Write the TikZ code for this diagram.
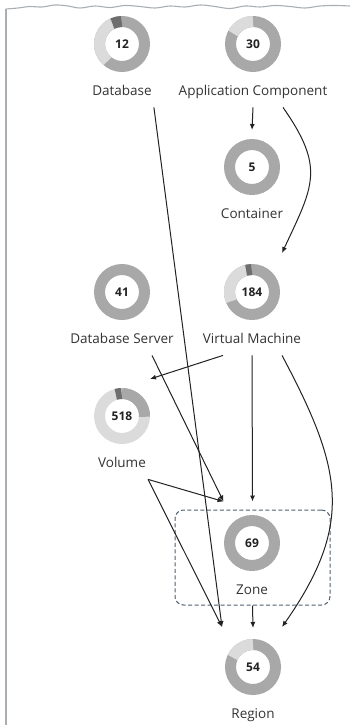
\documentclass[tikz,border=0pt]{standalone}
\usepackage{fontspec}
\setmainfont{Open Sans}
\usetikzlibrary{arrows.meta,positioning,calc}
\usepackage{xcolor}
\definecolor{ringmid}{HTML}{A8A8A8}
\definecolor{ringlight}{HTML}{DBDBDB}
\definecolor{ringdark}{HTML}{6E6E6E}
\definecolor{dark}{HTML}{222222}
\definecolor{textgray}{HTML}{333333}
\definecolor{zoneline}{HTML}{4F5F6F}
\definecolor{edgegray}{HTML}{A9AEB3}
\tikzset{
  ring/.style={circle, draw=#1, line width=11pt, minimum size=45pt, inner sep=0pt, outer sep=5.5pt, text=dark, font=\fontsize{12}{14}\selectfont\bfseries},
  ring/.default=ringmid,
  lbl/.style={text=textgray, font=\fontsize{13.5}{16}\selectfont, text height=10pt, text depth=3pt, inner xsep=2pt, inner ysep=8.5pt},
  arrow/.style={-{Latex[length=6pt,width=5pt]}, line width=1pt, draw=dark},
  grp/.style={draw=zoneline, dash pattern=on 4pt off 2.5pt, rounded corners=3mm, line width=1pt, minimum width=155pt, minimum height=95pt},
  edge/.style={draw=edgegray, line width=1.1pt}
}
% one coloured piece of a ring, angles counter clockwise
\newcommand{\ringpart}[4]{\draw[draw=#4, line width=11pt] (#1.center) ++(#2:22.5pt) arc[start angle=#2, end angle=#3, radius=22.5pt];}

\begin{document}
\begin{tikzpicture}[x=1pt, y=-1pt]
  \useasboundingbox (0,0) rectangle (350,725);

  % torn top edge and left border
  \draw[edge] plot[smooth, tension=0.6] coordinates {(6,9) (18,8) (30,6.5) (42,7) (55,5) (68,6) (80,8) (95,6) (110,7.5) (125,5.5) (140,6.5) (155,8) (170,6) (185,7) (200,5) (215,6.5) (230,8.5) (245,6) (260,7) (275,5.5) (290,6.5) (305,8) (320,6) (335,5.5) (350,6)};
  \draw[edge] (6,9) -- (6,725);

  % zone group
  \node[grp] (zonebox) at (252.5,557.5) {};

  % rings
  \node[ring] (db) at (122,44) {12};
  \node[ring] (ac) at (253,44) {30};
  \node[ring] (ct) at (252,167) {5};
  \node[ring] (ds) at (122,292) {41};
  \node[ring] (vm) at (252,292) {184};
  \node[ring=ringlight] (vo) at (122,416) {518};
  \node[ring] (zn) at (252,543) {69};
  \node[ring] (rg) at (253,667) {54};

  % coloured pieces
  \ringpart{db}{115}{230}{ringlight}
  \ringpart{db}{91}{115}{ringdark}
  \ringpart{ac}{90}{152}{ringlight}
  \ringpart{vm}{105}{204}{ringlight}
  \ringpart{vm}{91}{105}{ringdark}
  \ringpart{vo}{-2}{90}{ringmid}
  \ringpart{vo}{91}{106}{ringdark}
  \ringpart{rg}{90}{155}{ringlight}

  % labels
  \node[lbl, below=5pt of db] (dblbl) {Database};
  \node[lbl, below=5pt of ac] (aclbl) {Application Component};
  \node[lbl, below=5pt of ct] (ctlbl) {Container};
  \node[lbl, below=5pt of ds] (dslbl) {Database Server};
  \node[lbl, below=5pt of vm] (vmlbl) {Virtual Machine};
  \node[lbl, below=5pt of vo] (volbl) {Volume};
  \node[lbl, below=5pt of zn] (znlbl) {Zone};
  \node[lbl, below=5pt of rg] (rglbl) {Region};

  % connectors
  \draw[arrow] (aclbl.south) -- ([yshift=9pt]ct.north);
  \draw[arrow] ([xshift=30pt]aclbl.south) to[out=-55, in=65, looseness=1.3] ([xshift=30pt,yshift=11pt]vm.north);
  \draw[arrow] (dblbl.south east) -- ([xshift=-31pt,yshift=12pt]rg.north);
  \draw[arrow] ([xshift=-29pt]vmlbl.south) -- ([xshift=28pt,yshift=9pt]vo.north);
  \draw[arrow] ([xshift=30pt]dslbl.south) -- ([xshift=-29pt,yshift=8pt]zonebox.north);
  \draw[arrow] (vmlbl.south) -- ([yshift=8pt]zonebox.north);
  \draw[arrow] ([xshift=30pt]vmlbl.south) to[out=-62, in=55, looseness=1.2] ([xshift=29pt,yshift=12pt]rg.north);
  \draw[arrow] (volbl.south east) -- ([xshift=-29pt,yshift=8pt]zonebox.north);
  \draw[arrow] (volbl.south east) -- ([xshift=-31pt,yshift=12pt]rg.north);
  \draw[arrow] (zonebox.south) -- ([yshift=11pt]rg.north);
\end{tikzpicture}
\end{document}
